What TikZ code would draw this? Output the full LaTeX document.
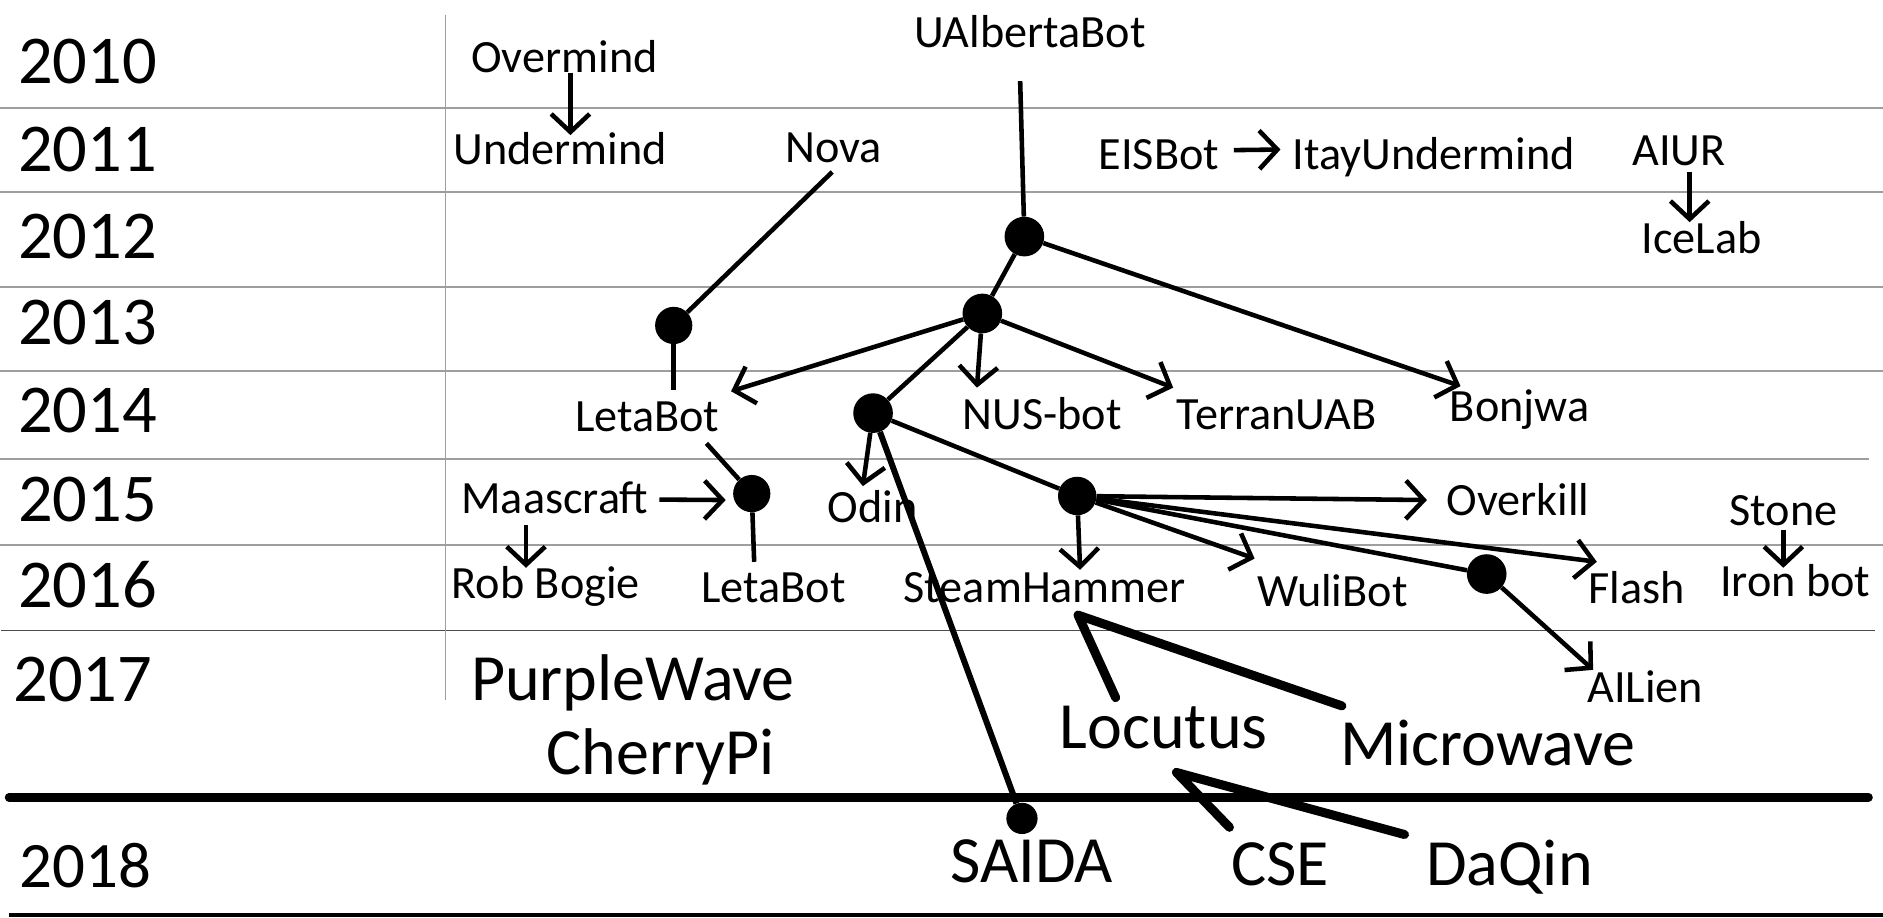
\documentclass[tikz,border=0pt]{standalone}
\usepackage{fontspec}
\setmainfont{Carlito}
\usetikzlibrary{arrows.meta}
\begin{document}
\begin{tikzpicture}[x=1pt,y=-1pt,
  gridline/.style={draw=black!38,line width=1.5pt},
  con/.style={line width=3.8pt},
  arr/.style={con,-{Straight Barb[length=15pt,width=32pt]}},
  heavy/.style={line width=7.5pt,line cap=round,line join=round},
  bdot/.style={circle,fill=black,inner sep=0pt,minimum size=33pt},
  lbl/.style={inner sep=0pt,font=\fontsize{38.5}{40}\selectfont,text height=24.6pt,text depth=0pt},
  big/.style={inner sep=0pt,font=\fontsize{55}{58}\selectfont,text height=35.2pt,text depth=0pt},
  yr/.style={inner sep=0pt,anchor=west,font=\fontsize{57}{60}\selectfont,text height=36.3pt,text depth=0pt}]
\useasboundingbox (0,0) rectangle (1568,764);
% table lines
\draw[gridline] (0,89.7) -- (1568,89.7);
\draw[gridline] (0,160) -- (1568,160);
\draw[gridline] (0,238.7) -- (1568,238.7);
\draw[gridline] (0,309) -- (1568,309);
\draw[gridline] (0,382.5) -- (1556,382.5);
\draw[gridline] (0,453.8) -- (1568,453.8);
\draw[gridline,draw=black!70] (1,525) -- (1561,525);
\draw[gridline] (371,12.5) -- (371,583);
\draw[line width=7pt,line cap=round] (7.5,664) -- (1556,664);
\draw[line width=3.5pt] (7.5,762) -- (1568,762);
% years
\node[yr] (y2010) at (15,51) {2010};
\node[yr] (y2011) at (15,125) {2011};
\node[yr] (y2012) at (15,197) {2012};
\node[yr] (y2013) at (15,269) {2013};
\node[yr] (y2014) at (15,342) {2014};
\node[yr] (y2015) at (15,416) {2015};
\node[yr] (y2016) at (15,488) {2016};
\node[yr] (y2017) at (11,566) {2017};
\node[yr,font=\fontsize{54}{57}\selectfont,text height=34.5pt] (y2018) at (16,722) {2018};
% labels
\node[lbl] (ovm) at (470,48) {Overmind};
\node[lbl] (udm) at (466.5,125) {Undermind};
\node[lbl] (nova) at (694,123) {Nova};
\node[lbl] (uab) at (857.5,27) {UAlbertaBot};
\node[lbl] (eis) at (965,129) {EISBot};
\node[lbl] (itay) at (1194,128.5) {ItayUndermind};
\node[lbl] (aiur) at (1398,125.5) {AIUR};
\node[lbl] (icelab) at (1417,199) {IceLab};
\node[lbl] (leta14) at (539,347) {LetaBot};
\node[lbl] (nus) at (868,345) {NUS-bot};
\node[lbl] (terran) at (1063,345) {TerranUAB};
\node[lbl] (bonjwa) at (1265.5,339) {Bonjwa};
\node[lbl] (maas) at (462,415) {Maascraft};
\node[lbl] (odin) at (726.5,423) {Odin};
\node[lbl] (overkill) at (1264,417) {Overkill};
\node[lbl] (stone) at (1485,425) {Stone};
\node[lbl] (rob) at (454.5,486) {Rob Bogie};
\node[lbl] (leta16) at (644,489) {LetaBot};
\node[lbl] (steam) at (870,489) {SteamHammer};
\node[lbl] (wuli) at (1109.5,493) {WuliBot};
\node[lbl] (flash) at (1363,490.6) {Flash};
\node[lbl] (iron) at (1495,484) {Iron bot};
\node[lbl] (ailien) at (1370,573) {AILien};
\node[big] (purple) at (527,566) {PurpleWave};
\node[big] (cherry) at (550,627) {CherryPi};
\node[big] (locutus) at (969,606) {Locutus};
\node[big] (microwave) at (1239,620) {Microwave};
\node[big] (saida) at (859,717) {SAIDA};
\node[big] (cse) at (1066,720) {CSE};
\node[big] (daqin) at (1257,720) {DaQin};
% dots
\node[bdot] (dA) at (853,197) {};
\node[bdot] (dB) at (818,261) {};
\node[bdot,minimum size=31pt] (dC) at (561,271) {};
\node[bdot] (dD) at (727,344) {};
\node[bdot,minimum size=31pt] (dE) at (626,411) {};
\node[bdot,minimum size=32pt] (dF) at (897,413) {};
\node[bdot] (dG) at (1238,478) {};
\node[bdot,minimum size=26pt] (dH) at (851,681.5) {};
% connectors
\draw[arr] ([xshift=5pt]ovm.south) -- ([xshift=8.5pt]udm.north);
\draw[arr] ([shift={(12pt,4pt)}]eis.east) -- ([shift={(-10pt,4pt)}]itay.west);
\draw[arr] ([shift={(9pt,-5pt)}]aiur.south) -- ([shift={(-10pt,1.5pt)}]icelab.north);
\draw[con] ([shift={(-8pt,-28pt)}]uab.south) -- (dA);
\draw[con] (dA) -- (dB);
\draw[arr] (dA) -- ([shift={(9pt,5pt)}]bonjwa.north west);
\draw[arr] (dB) -- ([shift={(9.5pt,8.7pt)}]leta14.north east);
\draw[arr] (dB) -- ([shift={(-54.5pt,9.7pt)}]nus.north);
\draw[arr] (dB) -- ([shift={(-2.75pt,9.7pt)}]terran.north west);
\draw[con] (dB) -- (dD);
\draw[con] ([shift={(-1pt,-7.7pt)}]nova.south) -- (dC);
\draw[con] (dC) -- ([shift={(22pt,9.7pt)}]leta14.north);
\draw[arr] (dD) -- ([shift={(-8pt,5.7pt)}]odin.north);
\draw[con,line width=5pt] (dD) -- (dH);
\draw[con] (dD) -- (dF);
\draw[con] ([shift={(-11pt,-9.7pt)}]leta14.south east) -- (dE);
\draw[arr] ([shift={(9pt,-1pt)}]maas.east) -- ([shift={(-6pt,-5.4pt)}]dE.west);
\draw[con] (dE) -- ([shift={(-16pt,8.7pt)}]leta16.north);
\draw[arr] ([shift={(-24pt,-9.7pt)}]maas.south) -- ([shift={(-16.5pt,0.7pt)}]rob.north);
\draw[arr] (dF) -- ([shift={(29.4pt,2pt)}]steam.north);
\draw[arr] (dF) -- ([shift={(-16pt,0.6pt)}]overkill.west);
\draw[arr] (dF) -- ([shift={(7pt,10.3pt)}]flash.north west);
\draw[arr] (dF) -- ([shift={(-2pt,15.4pt)}]wuli.north west);
\draw[con] (dF) -- (dG);
\draw[arr] (dG) -- ([shift={(5pt,2.7pt)}]ailien.north west);
\draw[arr] ([shift={(0pt,-3.7pt)}]stone.south) -- ([shift={(-10pt,-1.3pt)}]iron.north);
\coordinate (steamTip) at ([shift={(27.7pt,-10.7pt)}]steam.south);
\draw[heavy] ([shift={(-40pt,7.3pt)}]locutus.north) -- (steamTip) -- ([shift={(1.5pt,14.4pt)}]microwave.north west);
\coordinate (locTip) at ([shift={(10.6pt,-19.4pt)}]locutus.south);
\draw[heavy] ([shift={(-1.3pt,13.3pt)}]cse.north west) -- (locTip) -- ([shift={(-17.9pt,7.3pt)}]daqin.north west);
\end{tikzpicture}
\end{document}
